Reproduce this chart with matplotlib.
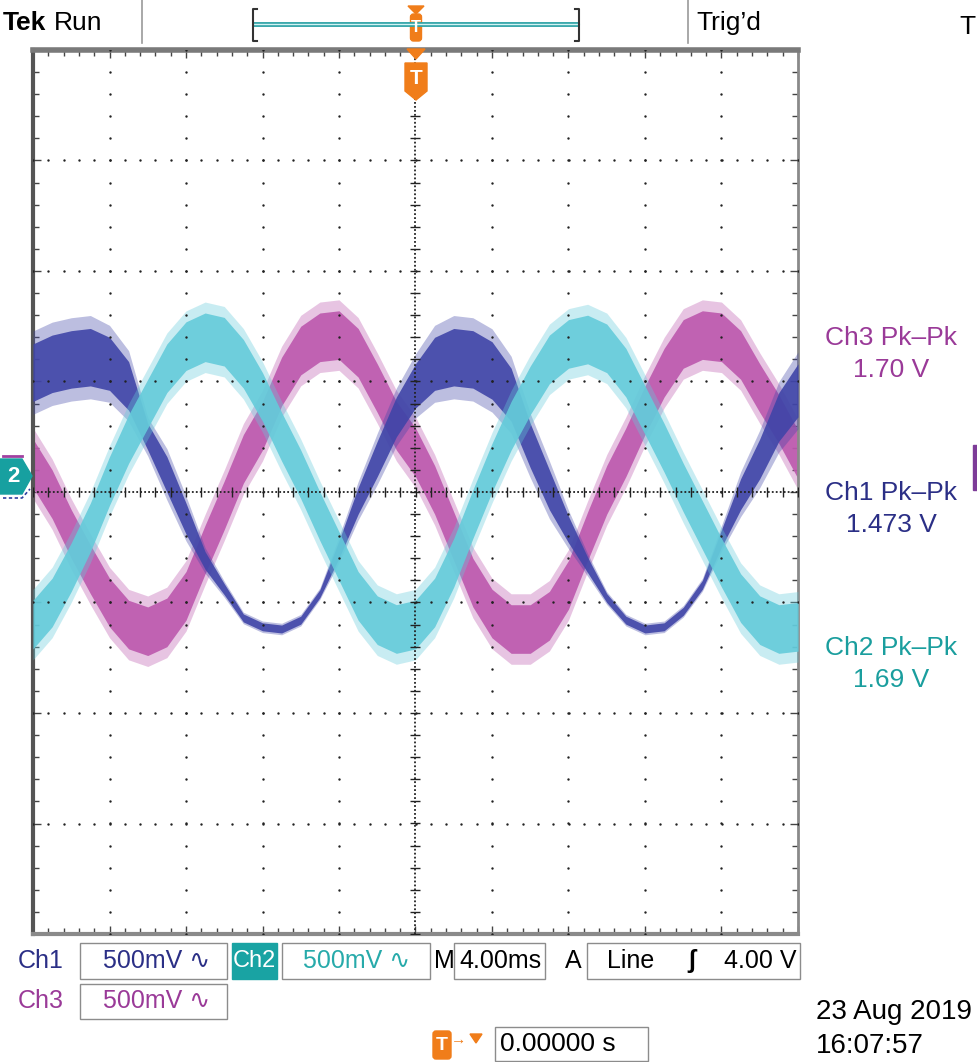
import numpy as np
import matplotlib
matplotlib.use('Agg')
import matplotlib.pyplot as plt
from matplotlib.patches import Rectangle, Polygon, FancyBboxPatch
from matplotlib.ticker import MultipleLocator

plt.rcParams['font.family'] = ['Liberation Sans', 'DejaVu Sans']

# time axis in ms (4 ms/div, 10 div), samples every 1 ms
t_ms = list(range(-20, 21))

# trace centre values in volts (500 mV/div)
ch1 = [0.54, 0.58, 0.60, 0.61, 0.58, 0.48, 0.25, 0.08, -0.12, -0.31, -0.44,
       -0.57, -0.61, -0.62, -0.58, -0.46, -0.26, -0.04, 0.15, 0.34, 0.48,
       0.58, 0.61, 0.60, 0.55, 0.44, 0.21, 0.01, -0.17, -0.33, -0.48,
       -0.58, -0.62, -0.61, -0.54, -0.42, -0.21, -0.01, 0.15, 0.34, 0.46]
ch2 = [-0.60, -0.50, -0.34, -0.16, 0.05, 0.24, 0.40, 0.56, 0.66, 0.70, 0.68,
       0.58, 0.43, 0.25, 0.08, -0.11, -0.29, -0.47, -0.58, -0.62, -0.60,
       -0.50, -0.32, -0.10, 0.11, 0.30, 0.46, 0.60, 0.67, 0.69, 0.65,
       0.54, 0.37, 0.20, 0.02, -0.15, -0.32, -0.48, -0.58, -0.62, -0.61]
ch3 = [0.13, -0.01, -0.19, -0.35, -0.50, -0.60, -0.63, -0.59, -0.47, -0.26, -0.06,
       0.15, 0.30, 0.50, 0.64, 0.70, 0.71, 0.63, 0.47, 0.30, 0.18,
       0.01, -0.20, -0.41, -0.55, -0.62, -0.62, -0.56, -0.42, -0.20, 0.01,
       0.18, 0.37, 0.54, 0.67, 0.71, 0.70, 0.62, 0.47, 0.33, 0.17]

# half-width of the noise band around each trace (V)
ch1_noise = [0.13, 0.13, 0.13, 0.13, 0.12, 0.11, 0.06, 0.08, 0.07, 0.04, 0.025,
             0.018, 0.018, 0.018, 0.018, 0.018, 0.04, 0.06, 0.08, 0.09, 0.10,
             0.12, 0.13, 0.13, 0.13, 0.12, 0.10, 0.09, 0.06, 0.035, 0.02,
             0.018, 0.018, 0.018, 0.018, 0.02, 0.04, 0.07, 0.09, 0.11, 0.12]
ch2_noise = 0.11
ch3_noise = 0.11

# measurement readouts
meas_names = ['Ch3 Pk\u2013Pk', 'Ch1 Pk\u2013Pk', 'Ch2 Pk\u2013Pk']
meas_values = ['1.70 V', '1.473 V', '1.69 V']

c1, c2, c3 = '#4045A8', '#64CBDA', '#BC58AD'
t1, t2, t3 = '#2B2F86', '#1A9E9E', '#9A3A98'
orange = '#F07D1A'

fig = plt.figure(figsize=(9.77, 10.62), dpi=100)
ax = fig.add_axes([33 / 977, 1 - 934 / 1062, 765 / 977, 884 / 1062])
ax.set_xlim(-20, 20)
ax.set_ylim(-2, 2)

t = np.array(t_ms, dtype=float)


def trace(vals, noise, color, z):
    v = np.array(vals)
    w = np.array(noise) * np.ones_like(v)
    ax.fill_between(t, v - 1.45 * w, v + 1.45 * w, color=color, alpha=0.35, lw=0, zorder=z)
    ax.fill_between(t, v - w, v + w, color=color, alpha=0.9, lw=0, zorder=z + 0.1)


trace(ch3, ch3_noise, c3, 2)
trace(ch1, ch1_noise, c1, 3)
trace(ch2, ch2_noise, c2, 4)

# graticule
minor_x = np.arange(-20, 20.01, 0.8)
minor_y = np.arange(-2, 2.01, 0.1)
for xm in [-16, -12, -8, -4, 4, 8, 12, 16]:
    ax.scatter(np.full(len(minor_y), xm), minor_y, s=3, c='#222', lw=0, zorder=10)
for ym in [-1.5, -1, -0.5, 0.5, 1, 1.5]:
    ax.scatter(minor_x, np.full(len(minor_x), ym), s=3, c='#222', lw=0, zorder=10)
ax.plot([-20, 20], [0, 0], ls=(0, (1, 1.2)), lw=1.3, color='#222', zorder=10)
ax.plot([0, 0], [-2, 2], ls=(0, (1, 1.2)), lw=1.3, color='#222', zorder=10)
ax.plot(minor_x, np.zeros(len(minor_x)), marker='|', ms=7, mew=1, ls='none', color='#222', zorder=10)
ax.plot(np.zeros(len(minor_y)), minor_y, marker='_', ms=7, mew=1, ls='none', color='#222', zorder=10)

ax.xaxis.set_major_locator(MultipleLocator(4))
ax.xaxis.set_minor_locator(MultipleLocator(0.8))
ax.yaxis.set_major_locator(MultipleLocator(0.5))
ax.yaxis.set_minor_locator(MultipleLocator(0.1))
ax.tick_params(which='both', direction='in', top=True, right=True,
               labelbottom=False, labelleft=False, color='#444', width=1)
ax.tick_params(which='major', length=6)
ax.tick_params(which='minor', length=4)
ax.spines['top'].set(color='#7a7a7a', lw=4)
ax.spines['left'].set(color='#555555', lw=3)
ax.spines['right'].set(color='#8a8a8a', lw=2)
ax.spines['bottom'].set(color='#8a8a8a', lw=3)

# overlay in pixel coordinates for the screen furniture
ov = fig.add_axes([0, 0, 1, 1], zorder=5)
ov.set_xlim(0, 977)
ov.set_ylim(1062, 0)
ov.axis('off')
ov.patch.set_alpha(0)

# header
ov.text(3, 23, 'Tek', fontsize=19, fontweight='bold', va='center')
ov.text(54, 23, 'Run', fontsize=19, va='center')
ov.text(696, 23, 'Trig\u2019d', fontsize=19, va='center')
ov.text(976, 27, 'T', fontsize=19, ha='right', va='center')
for xs in [142, 688]:
    ov.plot([xs, xs], [0, 43], color='#9a9a9a', lw=1.2)
ov.plot([253, 579], [24, 24], color='#2FA3A6', lw=3.5, solid_capstyle='butt')
ov.plot([253, 579], [24, 24], color='#D2F3F3', lw=1)
ov.plot([257, 253, 253, 257], [9, 9, 41, 41], color='#333', lw=1.5)
ov.plot([575, 579, 579, 575], [9, 9, 41, 41], color='#333', lw=1.5)
ov.add_patch(Polygon([(408, 6), (424, 6), (416, 14)], color=orange))
ov.add_patch(FancyBboxPatch((410.5, 14), 11, 27, boxstyle='round,pad=0,rounding_size=3', color=orange))
ov.text(416, 28, 'T', color='white', fontsize=12, fontweight='bold', ha='center', va='center')

# trigger position marker below the header
ov.add_patch(Polygon([(407, 49), (425, 49), (416, 59)], color=orange))
ov.add_patch(Polygon([(405, 63), (427, 63), (427, 91), (416, 100), (405, 91)], color=orange))
ov.text(416, 78, 'T', color='white', fontsize=15, fontweight='bold', ha='center', va='center')

# channel 2 ground marker
ov.plot([3, 22], [456, 456], color='#A040A0', lw=2)
ov.plot([3, 22, 30], [498, 498, 489], color='#3040A0', lw=1.2, ls=(0, (2, 1.5)))
ov.add_patch(Polygon([(0, 459), (22, 459), (32, 476), (22, 494), (0, 494)], color='#17A0A0'))
ov.text(13, 477, '2', color='white', fontsize=16, fontweight='bold', ha='center', va='center')
ov.add_patch(Rectangle((973, 445), 4, 45, color='#7D3C98'))

# measurement readouts on the right
for name, val, col, yc in zip(meas_names, meas_values, [t3, t1, t2], [338, 493, 648]):
    ov.text(891, yc, name, color=col, fontsize=19, ha='center', va='center')
    ov.text(891, yc + 32, val, color=col, fontsize=19, ha='center', va='center')

# bottom status line


def box(x0, x1, y0, y1, fc='white', ec='#8c8c8c'):
    ov.add_patch(Rectangle((x0, y0), x1 - x0, y1 - y0, fc=fc, ec=ec, lw=1))


fs = 18
box(80, 227, 943, 979)
box(232, 277, 943, 979, fc='#19A3A3', ec='#19A3A3')
box(282, 430, 943, 979)
box(454, 545, 943, 979)
box(587, 800, 943, 979)
box(80, 227, 984, 1019)
box(495, 648, 1027, 1061)

ov.text(18, 961, 'Ch1', color=t1, fontsize=fs, va='center')
ov.text(103, 961, '500mV \u223f', color=t1, fontsize=fs, va='center')
ov.text(254.5, 961, 'Ch2', color='white', fontsize=17, ha='center', va='center')
ov.text(303, 961, '500mV \u223f', color='#27AAAA', fontsize=fs, va='center')
ov.text(434, 961, 'M', fontsize=fs, va='center')
ov.text(459, 961, '4.00ms', fontsize=fs, va='center')
ov.text(565, 961, 'A', fontsize=fs, va='center')
ov.text(607, 961, 'Line', fontsize=fs, va='center')
ov.text(692, 961, '\u0283', fontsize=fs, fontweight='bold', ha='center', va='center')
ov.text(797, 961, '4.00 V', fontsize=fs, ha='right', va='center')

ov.text(18, 1001, 'Ch3', color=t3, fontsize=fs, va='center')
ov.text(103, 1001, '500mV \u223f', color=t3, fontsize=fs, va='center')

ov.add_patch(FancyBboxPatch((433, 1031), 18, 28, boxstyle='round,pad=0,rounding_size=3', color=orange))
ov.text(442, 1045, 'T', color='white', fontsize=14, fontweight='bold', ha='center', va='center')
ov.text(459, 1040, '\u2192', color=orange, fontsize=11, ha='center', va='center')
ov.add_patch(Polygon([(470, 1034), (482, 1034), (476, 1043)], color=orange))
ov.text(500, 1044, '0.00000 s', fontsize=19, va='center')

ov.text(816, 1012, '23 Aug 2019', fontsize=20, va='center')
ov.text(816, 1046, '16:07:57', fontsize=20, va='center')

fig.savefig('out.png', dpi=100)
